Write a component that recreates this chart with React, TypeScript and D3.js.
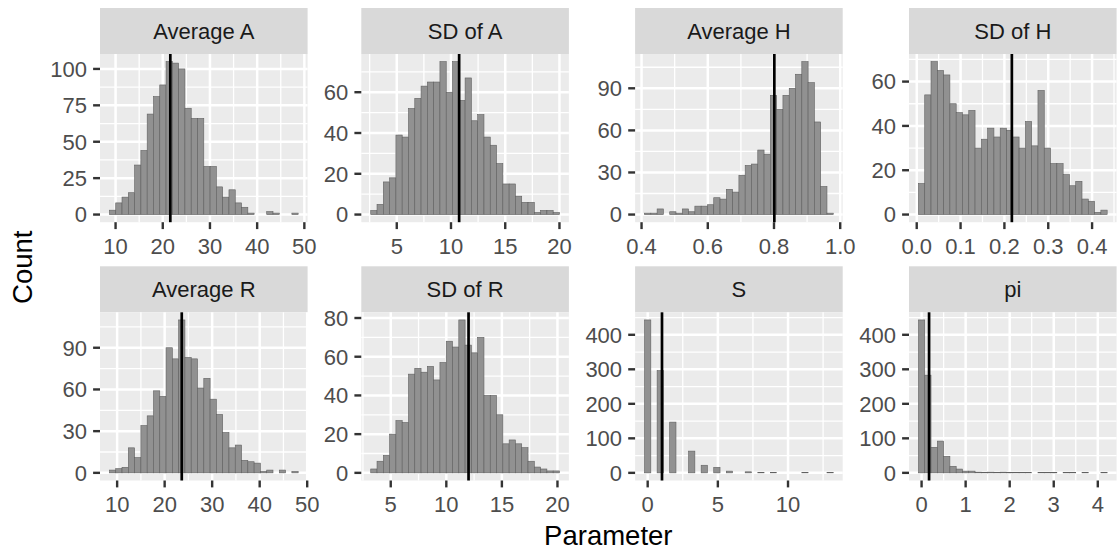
import React from "react";
import * as d3 from "d3";

const panelTitles = ["Average A", "SD of A", "Average H", "SD of H", "Average R", "SD of R", "S", "pi"];

// left edge of the first bin and bin width (30 bins each)
const binStarts = [8.7, 2.6, 0.409, 0.0039, 8.38, 3.2, -0.2241, -0.0714];
const binWidths = [1.333, 0.58, 0.019, 0.01435, 1.324, 0.566, 0.44828, 0.1428];

const countsAvgA = [3, 8, 12, 15, 34, 44, 69, 81, 89, 105, 104, 100, 73, 66, 66, 33, 33, 19, 12, 17, 8, 5, 1, 0, 0, 2, 1, 0, 0, 1];
const countsSdA = [2, 5, 16, 18, 39, 38, 52, 57, 63, 65, 65, 75, 60, 75, 56, 67, 46, 49, 38, 34, 25, 15, 15, 9, 6, 6, 1, 2, 2, 1];
const countsAvgH = [1, 1, 4, 0, 2, 1, 4, 2, 6, 6, 7, 12, 11, 18, 16, 28, 35, 36, 46, 43, 85, 75, 85, 90, 100, 109, 94, 66, 20, 1];
const countsSdH = [14, 54, 69, 65, 63, 50, 46, 45, 47, 30, 34, 39, 35, 39, 38, 35, 30, 42, 31, 56, 30, 23, 23, 18, 13, 15, 7, 6, 1, 2];
const countsAvgR = [2, 3, 4, 18, 11, 34, 41, 59, 55, 90, 82, 110, 83, 82, 61, 68, 53, 42, 29, 18, 20, 9, 8, 7, 1, 2, 0, 2, 0, 1];
const countsSdR = [2, 6, 9, 20, 27, 26, 51, 54, 52, 55, 48, 57, 68, 65, 79, 66, 62, 70, 40, 40, 30, 15, 17, 15, 13, 6, 3, 2, 1, 1];
const countsS = [443, 0, 296, 0, 147, 0, 0, 63, 0, 22, 0, 16, 0, 5, 0, 0, 3, 0, 1, 0, 1, 0, 0, 0, 0, 1, 0, 0, 0, 1];
const countsPi = [443, 283, 74, 92, 48, 19, 11, 5, 5, 2, 1, 2, 1, 2, 1, 1, 1, 1, 0, 1, 1, 1, 0, 1, 1, 0, 1, 0, 0, 1];
const allCounts = [countsAvgA, countsSdA, countsAvgH, countsSdH, countsAvgR, countsSdR, countsS, countsPi];

const meanValues = [21.6, 10.75, 0.801, 0.217, 23.6, 12.0, 1.02, 0.17];

const xTickValues = [
  [10, 20, 30, 40, 50],
  [5, 10, 15, 20],
  [0.4, 0.6, 0.8, 1.0],
  [0, 0.1, 0.2, 0.3, 0.4],
  [10, 20, 30, 40, 50],
  [5, 10, 15, 20],
  [0, 5, 10],
  [0, 1, 2, 3, 4],
];
const xTickLabels = [
  ["10", "20", "30", "40", "50"],
  ["5", "10", "15", "20"],
  ["0.4", "0.6", "0.8", "1.0"],
  ["0.0", "0.1", "0.2", "0.3", "0.4"],
  ["10", "20", "30", "40", "50"],
  ["5", "10", "15", "20"],
  ["0", "5", "10"],
  ["0", "1", "2", "3", "4"],
];
const yTickValues = [
  [0, 25, 50, 75, 100],
  [0, 20, 40, 60],
  [0, 30, 60, 90],
  [0, 20, 40, 60],
  [0, 30, 60, 90],
  [0, 20, 40, 60, 80],
  [0, 100, 200, 300, 400],
  [0, 100, 200, 300, 400],
];

const xTitle = "Parameter";
const yTitle = "Count";

// layout
const PW = 207.6;
const PH = 168.2;
const colLeft = [100, 361.3, 635.1, 909];
const rowTop = [54, 312.3];
const STRIP_H = 46;
const FONT = "'Liberation Sans', Arial, Helvetica, sans-serif";

function minorBreaks(b: number[], lim: [number, number]) {
  let br = b.slice();
  const bd = br[1] - br[0];
  if (lim[0] < br[0]) br = [br[0] - bd, ...br];
  if (lim[1] > br[br.length - 1]) br = [...br, br[br.length - 1] + bd];
  const out: number[] = [];
  for (let i = 0; i < br.length - 1; i++) {
    const m = (br[i] + br[i + 1]) / 2;
    if (m >= lim[0] && m <= lim[1]) out.push(m);
  }
  return out;
}

function Panel({ i }: { i: number }) {
  const col = i % 4;
  const row = Math.floor(i / 4);
  const x0 = colLeft[col];
  const y0 = rowTop[row];
  const counts = allCounts[i];
  const bs = binStarts[i];
  const bw = binWidths[i];
  const n = counts.length;
  const lo = bs;
  const hi = bs + n * bw;
  const ex = (hi - lo) * 0.05;
  const xDom: [number, number] = [lo - ex, hi + ex];
  const maxC = d3.max(counts) as number;
  const yDom: [number, number] = [-0.05 * maxC, 1.05 * maxC];
  const xs = d3.scaleLinear().domain(xDom).range([x0, x0 + PW]);
  const ys = d3.scaleLinear().domain(yDom).range([y0 + PH, y0]);
  const xMinor = minorBreaks(xTickValues[i], xDom);
  const yMinor = minorBreaks(yTickValues[i], yDom);
  const bottom = y0 + PH;
  return (
    <g>
      <rect x={x0} y={y0 - STRIP_H} width={PW} height={STRIP_H} fill="#d9d9d9" />
      <text x={x0 + PW / 2} y={y0 - STRIP_H / 2 + 7.9} textAnchor="middle" fontSize={22} fill="#1a1a1a" fontFamily={FONT}>
        {panelTitles[i]}
      </text>
      <rect x={x0} y={y0} width={PW} height={PH} fill="#ebebeb" />
      {xMinor.map((v, k) => (
        <line key={"xm" + k} x1={xs(v)} x2={xs(v)} y1={y0} y2={bottom} stroke="#fff" strokeWidth={1.3} />
      ))}
      {yMinor.map((v, k) => (
        <line key={"ym" + k} x1={x0} x2={x0 + PW} y1={ys(v)} y2={ys(v)} stroke="#fff" strokeWidth={1.3} />
      ))}
      {xTickValues[i].map((v, k) => (
        <line key={"xM" + k} x1={xs(v)} x2={xs(v)} y1={y0} y2={bottom} stroke="#fff" strokeWidth={2.5} />
      ))}
      {yTickValues[i].map((v, k) => (
        <line key={"yM" + k} x1={x0} x2={x0 + PW} y1={ys(v)} y2={ys(v)} stroke="#fff" strokeWidth={2.5} />
      ))}
      {counts.map((c, k) => {
        const a = xs(bs + k * bw);
        const b = xs(bs + (k + 1) * bw);
        return (
          <rect key={"b" + k} x={a} y={ys(c)} width={b - a} height={ys(0) - ys(c)} fill="#919191" stroke="#606060" strokeWidth={0.6} />
        );
      })}
      <line x1={xs(meanValues[i])} x2={xs(meanValues[i])} y1={y0} y2={bottom} stroke="#000" strokeWidth={2.7} />
      {xTickValues[i].map((v, k) => (
        <g key={"xt" + k}>
          <line x1={xs(v)} x2={xs(v)} y1={bottom} y2={bottom + 6.9} stroke="#333" strokeWidth={2.4} />
          <text x={xs(v)} y={bottom + 31.6} textAnchor="middle" fontSize={22} fill="#4d4d4d" fontFamily={FONT}>
            {xTickLabels[i][k]}
          </text>
        </g>
      ))}
      {yTickValues[i].map((v, k) => (
        <g key={"yt" + k}>
          <line x1={x0 - 6.9} x2={x0} y1={ys(v)} y2={ys(v)} stroke="#333" strokeWidth={2.4} />
          <text x={x0 - 13} y={ys(v) + 7.9} textAnchor="end" fontSize={22} fill="#4d4d4d" fontFamily={FONT}>
            {String(v)}
          </text>
        </g>
      ))}
    </g>
  );
}

export default function App() {
  const panelsTop = rowTop[0];
  const panelsBottom = rowTop[1] + PH;
  const cy = (panelsTop + panelsBottom) / 2;
  const cx = (colLeft[0] + colLeft[3] + PW) / 2;
  return (
    <svg width={1117} height={554} style={{ position: "absolute", left: 0, top: 0, background: "#fff" }}>
      <rect x={0} y={0} width={1117} height={554} fill="#fff" />
      {panelTitles.map((_, i) => (
        <Panel key={i} i={i} />
      ))}
      <text x={cx} y={545} textAnchor="middle" fontSize={27.5} fill="#000" fontFamily={FONT}>
        {xTitle}
      </text>
      <text transform={`translate(${32},${cy}) rotate(-90)`} textAnchor="middle" fontSize={27.5} fill="#000" fontFamily={FONT}>
        {yTitle}
      </text>
    </svg>
  );
}
